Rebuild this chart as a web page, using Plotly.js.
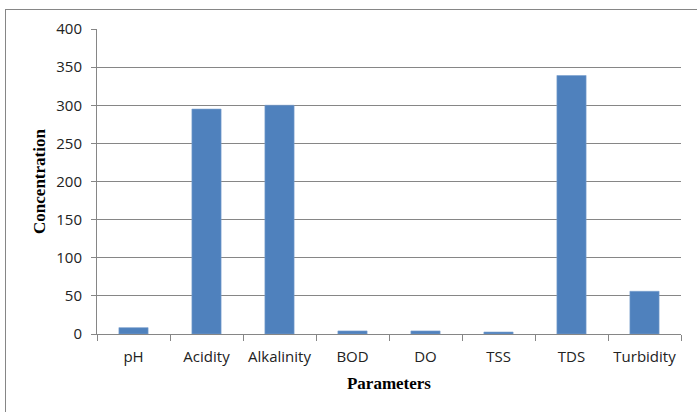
<!DOCTYPE html>
<html>
<head>
<meta charset="utf-8">
<script src="https://cdn.plot.ly/plotly-3.0.1.min.js"></script>
<style>
html,body{margin:0;padding:0;background:#fff;}
#wrap{position:relative;width:697px;height:412px;overflow:hidden;}
#chart{width:697px;height:412px;}
#frame{position:absolute;left:5px;top:9px;width:720px;height:420px;border-left:1px solid #868686;border-top:1px solid #868686;pointer-events:none;}
</style>
</head>
<body>
<div id="wrap"><div id="chart"></div><div id="frame"></div></div>
<script>
const categories = ["pH","Acidity","Alkalinity","BOD","DO","TSS","TDS","Turbidity"];
const concentration = [8.3, 295, 300, 4, 4, 2.6, 339, 56];
const yTicks = [0,50,100,150,200,250,300,350,400];

const trace = {
  type: 'bar',
  x: categories,
  y: concentration,
  marker: {color: '#4F81BD', line: {color: '#7aa0cf', width: 0.6}},
  hoverinfo: 'x+y'
};

const layout = {
  width: 697, height: 412,
  margin: {l: 97, r: 16, t: 29, b: 78},
  paper_bgcolor: '#fff', plot_bgcolor: '#fff',
  bargap: 0.6,
  showlegend: false,
  font: {family: '"Open Sans", sans-serif', size: 15, color: '#222'},
  xaxis: {
    type: 'category',
    showgrid: false,
    showline: true, linecolor: '#868686', linewidth: 1,
    ticks: 'outside', ticklen: 6, tickcolor: '#868686', tickson: 'boundaries',
    tickfont: {family: '"Open Sans", sans-serif', size: 15, color: '#222'},
    ticklabelstandoff: 9,
    title: {text: 'Parameters', font: {family: '"Liberation Serif", "Times New Roman", serif', size: 17, color: '#000', weight: 'bold'}, standoff: 12}
  },
  yaxis: {
    range: [0, 400],
    tickvals: yTicks,
    showgrid: true, gridcolor: '#868686', gridwidth: 1,
    showline: true, linecolor: '#868686', linewidth: 1,
    zeroline: false,
    ticks: 'outside', ticklen: 5, tickcolor: '#868686',
    tickfont: {family: '"Open Sans", sans-serif', size: 15, color: '#222'},
    ticklabelstandoff: 6,
    title: {text: 'Concentration', font: {family: '"Liberation Serif", "Times New Roman", serif', size: 17, color: '#000', weight: 'bold'}, standoff: 6}
  }
};

Plotly.newPlot('chart', [trace], layout, {displayModeBar: false, staticPlot: true});
</script>
</body>
</html>
